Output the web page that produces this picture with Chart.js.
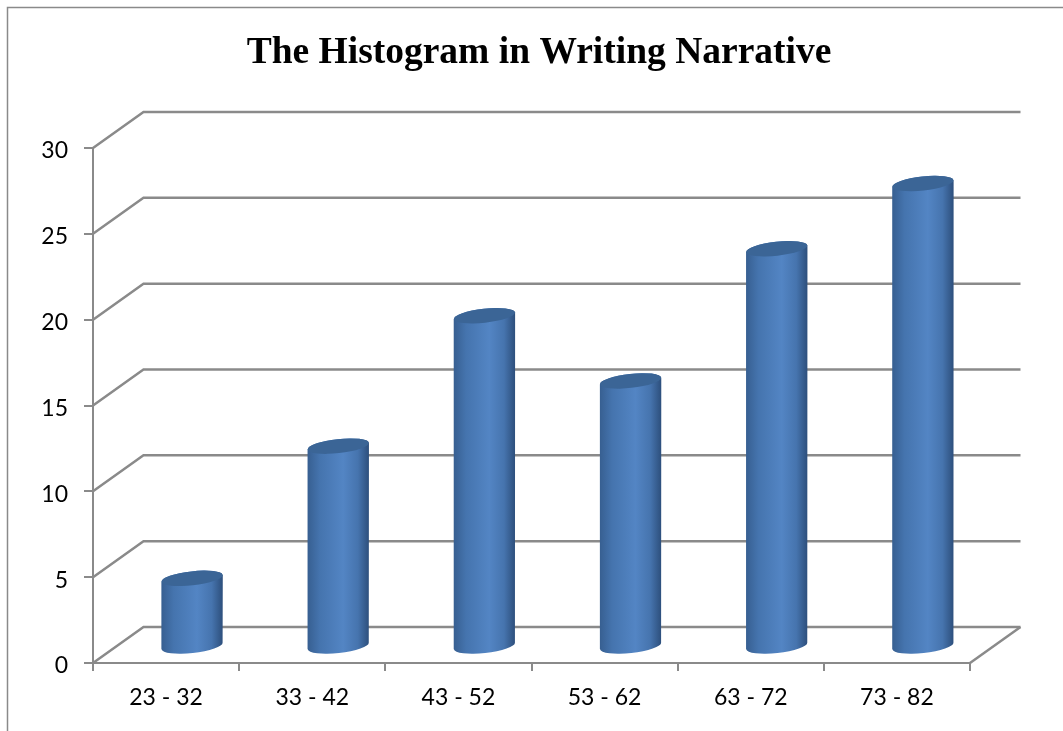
<!DOCTYPE html>
<html>
<head>
<meta charset="utf-8">
<title>The Histogram in Writing Narrative</title>
<script src="https://cdn.jsdelivr.net/npm/chart.js@4"></script>
<style>
    html, body { margin: 0; padding: 0; background: #fff; }
    #histogram { display: block; }
</style>
</head>
<body>
<canvas id="histogram" width="1063" height="731"></canvas>
<script>
// Data block
const categories = ['23 - 32', '33 - 42', '43 - 52', '53 - 62', '63 - 72', '73 - 82'];
const values = [4, 11.7, 19.3, 15.5, 23.2, 27];
const chartTitle = 'The Histogram in Writing Narrative';

const axisGray = '#8a8a8a';
// How far the back wall sits from the front plane
const wallDepth = { x: 50.5, y: -36 };
// The cylinders stand half way into the floor
const barDepth = { x: 26, y: -16 };

// Back wall, floor and outer frame
const wallPlugin = {
    id: 'wall',
    beforeDraw(chart) {
        // Title is centred on the picture's frame, not on the plot
        chart.titleBlock.left = 15;
        chart.titleBlock.right = chart.width;
    },
    beforeDatasetsDraw(chart) {
        const ctx = chart.ctx;
        const { left, right, bottom } = chart.chartArea;
        const yScale = chart.scales.y;

        ctx.save();
        ctx.strokeStyle = axisGray;

        // Frame of the chart object, its right and bottom sides are cut off
        ctx.beginPath();
        ctx.moveTo(7.5, 731);
        ctx.lineTo(7.5, 7.5);
        ctx.lineTo(1063, 7.5);
        ctx.lineWidth = 1.5;
        ctx.stroke();
        ctx.lineWidth = 2.5;

        yScale.ticks.forEach(tick => {
            const y = yScale.getPixelForValue(tick.value);
            ctx.beginPath();
            ctx.moveTo(left, y);
            ctx.lineTo(left + wallDepth.x, y + wallDepth.y);
            ctx.lineTo(right + wallDepth.x, y + wallDepth.y);
            ctx.stroke();
        });

        // Right side of the floor
        ctx.beginPath();
        ctx.moveTo(right, bottom);
        ctx.lineTo(right + wallDepth.x, bottom + wallDepth.y);
        ctx.stroke();
        ctx.restore();
    }
};  // End wallPlugin

// Draws each bar element as a cylinder instead of a flat rectangle
const cylinderPlugin = {
    id: 'cylinder',
    beforeDatasetDraw(chart, args) {
        const ctx = chart.ctx;
        const tilt = -0.11;
        const capHeight = 7;

        args.meta.data.forEach(bar => {
            const x = bar.x + barDepth.x;
            const top = bar.y + barDepth.y;
            const base = bar.base + barDepth.y;
            const radius = bar.width / 2;
            const rise = Math.sin(tilt) * radius;

            const side = ctx.createLinearGradient(x - radius, 0, x + radius, 0);
            side.addColorStop(0, '#375f91');
            side.addColorStop(0.2, '#4574ae');
            side.addColorStop(0.58, '#5385c4');
            side.addColorStop(0.82, '#4674ae');
            side.addColorStop(1, '#2d4f7c');

            ctx.save();
            ctx.beginPath();
            ctx.moveTo(x - radius, top - rise);
            ctx.lineTo(x - radius, base - rise);
            ctx.ellipse(x, base, radius, capHeight, tilt, Math.PI, 0, true);
            ctx.lineTo(x + radius, top + rise);
            ctx.ellipse(x, top, radius, capHeight, tilt, 0, Math.PI, true);
            ctx.closePath();
            ctx.fillStyle = side;
            ctx.fill();

            ctx.beginPath();
            ctx.ellipse(x, top, radius, capHeight, tilt, 0, Math.PI * 2);
            ctx.fillStyle = '#3b6596';
            ctx.fill();
            ctx.restore();
        });
        return false;  // Skip the default rectangle
    }
};  // End cylinderPlugin

// Config block
const histogramConfig = {
    type: 'bar',
    data: {
        labels: categories,
        datasets: [{
            label: 'Writing Narrative',
            data: values,
            backgroundColor: '#4f81bd',
            categoryPercentage: 1,
            barPercentage: 0.42
        }]  // End datasets
    },  // End data
    options: {
        responsive: false,
        animation: false,
        layout: {
            padding: { left: 16, right: 93, top: 0, bottom: 0 }
        },
        plugins: {
            legend: { display: false },
            tooltip: { enabled: false },
            title: {
                display: true,
                text: chartTitle,
                color: '#000',
                font: { family: '"Liberation Serif"', size: 37.5, weight: 'bold' },
                padding: { top: 31, bottom: 72 }
            }  // End title
        },  // End plugins
        scales: {
            x: {
                afterFit: scale => { scale.height = 68; },
                border: { color: axisGray, width: 2 },
                grid: {
                    offset: true,
                    drawOnChartArea: false,
                    color: axisGray,
                    lineWidth: 2,
                    tickLength: 8
                },
                ticks: {
                    color: '#000',
                    padding: 13,
                    maxRotation: 0,
                    font: { family: 'Lato', size: 23 }
                }
            },  // End x axis
            y: {
                min: 0,
                max: 30,
                afterFit: scale => { scale.width = 77; },
                border: { color: axisGray, width: 2 },
                grid: {
                    drawOnChartArea: false,
                    color: axisGray,
                    lineWidth: 2,
                    tickLength: 9
                },
                ticks: {
                    stepSize: 5,
                    color: '#000',
                    padding: 16,
                    labelOffset: 3,
                    font: { family: 'Lato', size: 23 }
                }
            }  // End y axis
        }  // End scales
    },  // End options
    plugins: [wallPlugin, cylinderPlugin]
};  // End config

// render / init block
const histogramChart = new Chart(
    document.getElementById('histogram'),
    histogramConfig
);  // End Chart
</script>
</body>
</html>
